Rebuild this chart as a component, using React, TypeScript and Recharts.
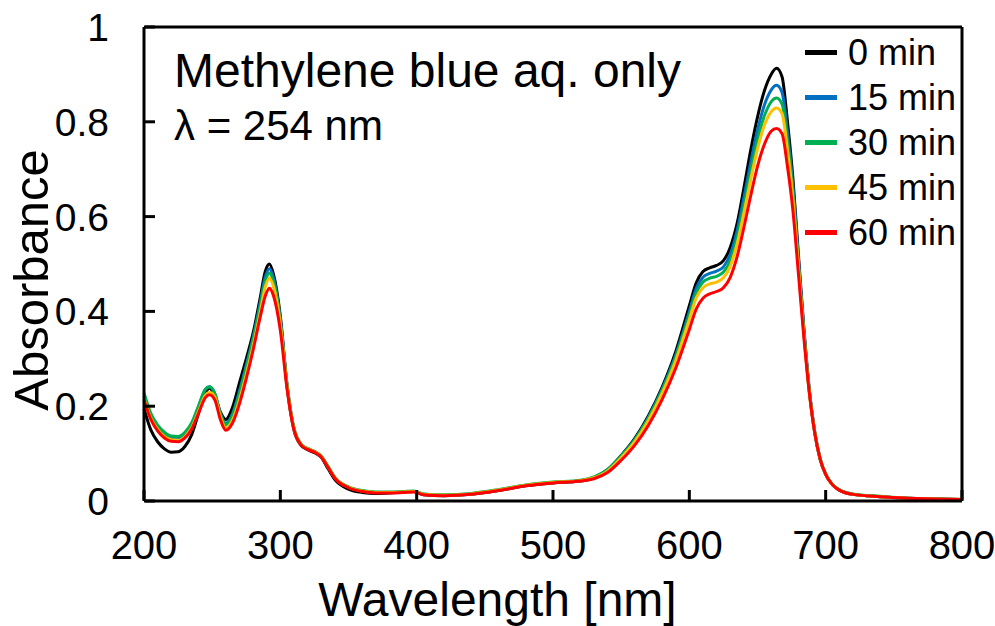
import * as React from "react"
import { LineChart, Line, XAxis, YAxis } from "recharts"

const WAVELENGTHS = [
  200, 205, 210, 215, 220, 225, 230, 235, 240, 245, 248, 252, 256, 260, 265, 270, 275, 280, 285, 289,
  292, 295, 300, 305, 310, 315, 320, 325, 330, 335, 340, 350, 360, 370, 380, 390, 398, 405, 420, 440,
  460, 480, 500, 520, 530, 540, 550, 560, 570, 580, 590, 600, 605, 610, 615, 620, 625, 630, 635, 640,
  645, 650, 655, 660, 664, 668, 672, 676, 680, 684, 688, 692, 696, 700, 705, 710, 720, 740, 760, 780, 800,
]

const MIN_0 = [
  0.195, 0.15, 0.125, 0.11, 0.103, 0.104, 0.115, 0.14, 0.185, 0.228, 0.238, 0.222, 0.188, 0.172, 0.198, 0.249, 0.3, 0.354, 0.425, 0.485,
  0.5, 0.478, 0.39, 0.24, 0.15, 0.118, 0.108, 0.102, 0.092, 0.068, 0.045, 0.025, 0.018, 0.016, 0.017, 0.019, 0.02, 0.013, 0.011, 0.014,
  0.022, 0.032, 0.038, 0.042, 0.049, 0.066, 0.096, 0.132, 0.18, 0.24, 0.315, 0.412, 0.46, 0.484, 0.492, 0.497, 0.507, 0.535, 0.585, 0.66,
  0.74, 0.81, 0.865, 0.9, 0.913, 0.895, 0.8, 0.68, 0.52, 0.365, 0.235, 0.145, 0.088, 0.056, 0.034, 0.023, 0.014, 0.009, 0.006, 0.004, 0.003,
]

const MIN_15 = [
  0.222, 0.18, 0.156, 0.142, 0.134, 0.133, 0.142, 0.162, 0.198, 0.235, 0.241, 0.226, 0.185, 0.164, 0.185, 0.232, 0.287, 0.345, 0.415, 0.473,
  0.49, 0.47, 0.385, 0.243, 0.153, 0.12, 0.11, 0.104, 0.094, 0.072, 0.049, 0.029, 0.021, 0.018, 0.018, 0.019, 0.02, 0.014, 0.012, 0.015,
  0.023, 0.033, 0.039, 0.043, 0.05, 0.066, 0.095, 0.13, 0.177, 0.236, 0.308, 0.4, 0.448, 0.472, 0.48, 0.485, 0.494, 0.52, 0.57, 0.64,
  0.714, 0.782, 0.835, 0.867, 0.877, 0.862, 0.778, 0.665, 0.512, 0.36, 0.233, 0.145, 0.088, 0.056, 0.034, 0.023, 0.014, 0.009, 0.006, 0.004, 0.003,
]

const MIN_30 = [
  0.228, 0.185, 0.16, 0.145, 0.137, 0.136, 0.145, 0.165, 0.201, 0.236, 0.241, 0.226, 0.184, 0.161, 0.181, 0.226, 0.281, 0.34, 0.408, 0.464,
  0.481, 0.462, 0.38, 0.244, 0.154, 0.121, 0.111, 0.105, 0.095, 0.073, 0.05, 0.03, 0.022, 0.019, 0.019, 0.02, 0.021, 0.015, 0.013, 0.016,
  0.024, 0.034, 0.04, 0.044, 0.051, 0.066, 0.095, 0.129, 0.175, 0.233, 0.303, 0.392, 0.438, 0.462, 0.47, 0.474, 0.483, 0.507, 0.555, 0.622,
  0.695, 0.762, 0.812, 0.842, 0.85, 0.837, 0.757, 0.65, 0.503, 0.356, 0.232, 0.145, 0.089, 0.057, 0.035, 0.024, 0.015, 0.01, 0.006, 0.004, 0.003,
]

const MIN_45 = [
  0.216, 0.175, 0.151, 0.136, 0.129, 0.128, 0.136, 0.155, 0.189, 0.223, 0.229, 0.219, 0.178, 0.154, 0.171, 0.213, 0.267, 0.327, 0.394, 0.452,
  0.47, 0.452, 0.372, 0.24, 0.152, 0.12, 0.11, 0.104, 0.094, 0.072, 0.049, 0.029, 0.021, 0.018, 0.018, 0.019, 0.02, 0.014, 0.012, 0.015,
  0.023, 0.033, 0.039, 0.043, 0.049, 0.063, 0.091, 0.125, 0.17, 0.227, 0.296, 0.383, 0.428, 0.45, 0.458, 0.462, 0.471, 0.495, 0.542, 0.607,
  0.678, 0.743, 0.792, 0.821, 0.829, 0.817, 0.74, 0.637, 0.495, 0.352, 0.23, 0.144, 0.088, 0.056, 0.034, 0.023, 0.014, 0.009, 0.006, 0.004, 0.003,
]

const MIN_60 = [
  0.213, 0.172, 0.148, 0.133, 0.126, 0.125, 0.133, 0.152, 0.185, 0.218, 0.224, 0.213, 0.172, 0.149, 0.165, 0.205, 0.258, 0.318, 0.385, 0.433,
  0.449, 0.433, 0.36, 0.235, 0.15, 0.119, 0.109, 0.103, 0.093, 0.071, 0.048, 0.028, 0.02, 0.017, 0.017, 0.018, 0.019, 0.013, 0.011, 0.014,
  0.022, 0.032, 0.038, 0.042, 0.047, 0.06, 0.086, 0.118, 0.16, 0.214, 0.28, 0.362, 0.405, 0.428, 0.437, 0.442, 0.45, 0.472, 0.515, 0.577,
  0.644, 0.706, 0.752, 0.78, 0.786, 0.775, 0.705, 0.612, 0.48, 0.345, 0.228, 0.143, 0.088, 0.056, 0.034, 0.023, 0.014, 0.009, 0.006, 0.004, 0.003,
]

const SERIES_NAMES = ["0 min", "15 min", "30 min", "45 min", "60 min"]
const SERIES_COLORS = ["#000000", "#0070C0", "#00B050", "#FFC000", "#FF0000"]
const X_TICKS = [200, 300, 400, 500, 600, 700, 800]
const Y_TICKS = [0, 0.2, 0.4, 0.6, 0.8, 1]
const Y_TICK_LABELS = ["0", "0.2", "0.4", "0.6", "0.8", "1"]

const ALL_SERIES = [MIN_0, MIN_15, MIN_30, MIN_45, MIN_60]
const rows = WAVELENGTHS.map((wl, i) => {
  const row: Record<string, number> = { wl }
  ALL_SERIES.forEach((s, k) => (row["s" + k] = s[i]))
  return row
})

const FONT = "'Liberation Sans', Arial, sans-serif"
const W = 995
const H = 626
// plot box: x 144..962, y 27..501 (each axis takes 1px)
const MARGIN = { top: 26, right: 32, bottom: 124, left: 143 }
const AXIS_LINE = { stroke: "#000", strokeWidth: 3 }

function XTick({ x, y, payload }: any) {
  return (
    <g>
      <line x1={x} x2={x} y1={y - 1} y2={y - 11} stroke="#000" strokeWidth={3} />
      <text x={x} y={y + 58} textAnchor="middle" fontSize={40} fontFamily={FONT} fill="#000">
        {payload.value}
      </text>
    </g>
  )
}

function YTick({ x, y, payload, index }: any) {
  return (
    <g>
      <line x1={x + 1} x2={x + 11} y1={y} y2={y} stroke="#000" strokeWidth={3} />
      <text x={x - 35} y={y + 14} textAnchor="end" fontSize={39} fontFamily={FONT} fill="#000">
        {Y_TICK_LABELS[index] ?? payload.value}
      </text>
    </g>
  )
}

export default function App() {
  return (
    <div style={{ position: "absolute", left: 0, top: 0, width: W, height: H, fontFamily: FONT, background: "#fff" }}>
      <LineChart width={W} height={H} data={rows} margin={MARGIN}>
        <XAxis
          dataKey="wl"
          type="number"
          domain={[200, 800]}
          ticks={X_TICKS}
          height={1}
          tickSize={0}
          tickMargin={0}
          tick={<XTick />}
          axisLine={AXIS_LINE}
          tickLine={false}
          interval={0}
        />
        <XAxis
          xAxisId="top"
          orientation="top"
          dataKey="wl"
          type="number"
          domain={[200, 800]}
          height={1}
          tick={false}
          tickLine={false}
          axisLine={AXIS_LINE}
        />
        <YAxis
          type="number"
          domain={[0, 1]}
          ticks={Y_TICKS}
          width={1}
          tickSize={0}
          tickMargin={0}
          tick={<YTick />}
          axisLine={AXIS_LINE}
          tickLine={false}
          interval={0}
        />
        <YAxis
          yAxisId="right"
          orientation="right"
          type="number"
          domain={[0, 1]}
          width={1}
          tick={false}
          tickLine={false}
          axisLine={AXIS_LINE}
        />
        {SERIES_NAMES.map((name, k) => (
          <Line
            key={name}
            name={name}
            dataKey={"s" + k}
            type="monotone"
            stroke={SERIES_COLORS[k]}
            strokeWidth={3}
            dot={false}
            activeDot={false}
            isAnimationActive={false}
          />
        ))}
      </LineChart>

      {/* axis titles */}
      <div
        style={{
          position: "absolute",
          left: 0,
          width: W,
          top: 573,
          textAlign: "center",
          fontSize: 48,
          lineHeight: "54px",
        }}
      >
        Wavelength [nm]
      </div>
      <div
        style={{
          position: "absolute",
          left: 31,
          top: 280,
          fontSize: 49,
          lineHeight: "54px",
          whiteSpace: "nowrap",
          transform: "translate(-50%, -50%) rotate(-90deg)",
        }}
      >
        Absorbance
      </div>

      {/* annotation */}
      <div style={{ position: "absolute", left: 174, top: 44, fontSize: 48, lineHeight: "54px", whiteSpace: "nowrap" }}>
        Methylene blue aq. only
      </div>
      <div style={{ position: "absolute", left: 174, top: 103, fontSize: 42, lineHeight: "46px", whiteSpace: "nowrap" }}>
        λ = 254 nm
      </div>

      {/* legend */}
      <div style={{ position: "absolute", left: 805, top: 30 }}>
        {SERIES_NAMES.map((name, k) => (
          <div key={name} style={{ display: "flex", alignItems: "center", height: 45 }}>
            <div style={{ width: 32, height: 5, background: SERIES_COLORS[k], marginRight: 11 }} />
            <span style={{ fontSize: 36, lineHeight: "45px" }}>{name}</span>
          </div>
        ))}
      </div>
    </div>
  )
}
